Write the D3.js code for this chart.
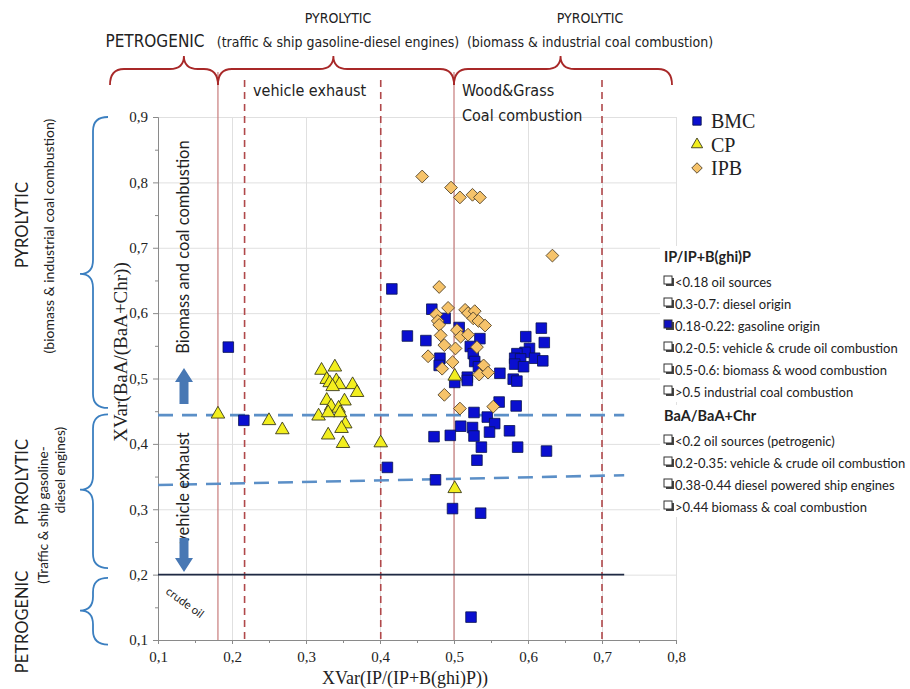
<!DOCTYPE html>
<html>
<head>
<meta charset="utf-8">
<script src="https://cdn.jsdelivr.net/npm/d3@7"></script>
<style>
  body { margin: 0; background: #fff; }
  .narrow { font-family: 'Liberation Sans Narrow', 'DejaVu Sans Condensed', sans-serif; font-stretch: condensed; fill: #222; }
  .cal { font-family: Lato, 'Open Sans', sans-serif; fill: #222; }
  .serif { font-family: 'Liberation Serif', 'Times New Roman', serif; fill: #222; }
</style>
</head>
<body>
<div id="chart"></div>
<script>
// series values: [IP/(IP+B(ghi)P), BaA/(BaA+Chr)]
const bmc = [
    [0.195, 0.548], [0.216, 0.436], [0.410, 0.364], [0.416, 0.637], [0.437, 0.565],
    [0.462, 0.558], [0.470, 0.606], [0.488, 0.592], [0.507, 0.578], [0.535, 0.561],
    [0.522, 0.549], [0.526, 0.538], [0.481, 0.531], [0.480, 0.520], [0.528, 0.526],
    [0.533, 0.518], [0.518, 0.502], [0.518, 0.497], [0.562, 0.508], [0.580, 0.499],
    [0.501, 0.494], [0.585, 0.496], [0.618, 0.577], [0.597, 0.564], [0.622, 0.555],
    [0.602, 0.546], [0.596, 0.540], [0.585, 0.538], [0.582, 0.531], [0.590, 0.530],
    [0.609, 0.531], [0.620, 0.527], [0.582, 0.522], [0.594, 0.518], [0.561, 0.464],
    [0.584, 0.458], [0.527, 0.448], [0.545, 0.441], [0.555, 0.431], [0.509, 0.427],
    [0.525, 0.425], [0.548, 0.418], [0.575, 0.420], [0.473, 0.411], [0.495, 0.413],
    [0.527, 0.412], [0.537, 0.395], [0.586, 0.395], [0.625, 0.389], [0.531, 0.375],
    [0.475, 0.345], [0.498, 0.301], [0.536, 0.294], [0.523, 0.135]
]
const ipb = [
    [0.457, 0.809], [0.496, 0.792], [0.508, 0.777], [0.525, 0.781], [0.535, 0.777],
    [0.633, 0.688], [0.480, 0.640], [0.492, 0.608], [0.476, 0.598], [0.478, 0.588],
    [0.480, 0.582], [0.482, 0.566], [0.487, 0.551], [0.465, 0.534], [0.498, 0.525],
    [0.502, 0.546], [0.504, 0.574], [0.509, 0.564], [0.515, 0.605], [0.519, 0.600],
    [0.528, 0.603], [0.526, 0.592], [0.533, 0.588], [0.542, 0.581], [0.519, 0.567],
    [0.531, 0.548], [0.540, 0.520], [0.534, 0.506], [0.546, 0.509], [0.484, 0.515],
    [0.487, 0.475], [0.508, 0.454], [0.553, 0.457]
]
const cp = [
    [0.181, 0.447], [0.250, 0.437], [0.268, 0.423], [0.321, 0.514], [0.339, 0.519],
    [0.328, 0.500], [0.332, 0.495], [0.341, 0.498], [0.345, 0.492], [0.336, 0.489],
    [0.363, 0.492], [0.369, 0.480], [0.328, 0.468], [0.352, 0.467], [0.334, 0.459],
    [0.344, 0.456], [0.346, 0.449], [0.317, 0.444], [0.330, 0.449], [0.353, 0.432],
    [0.348, 0.425], [0.330, 0.415], [0.350, 0.402], [0.401, 0.403], [0.501, 0.505],
    [0.501, 0.333]
]

const xTicks = [0.1, 0.2, 0.3, 0.4, 0.5, 0.6, 0.7, 0.8]
const yTicks = [0.1, 0.2, 0.3, 0.4, 0.5, 0.6, 0.7, 0.8, 0.9]

// source boundaries on the IP ratio (vertical red lines)
const ipCutoffs = [
    {value: 0.181, dashed: false},
    {value: 0.217, dashed: true},
    {value: 0.401, dashed: true},
    {value: 0.5, dashed: false},
    {value: 0.7, dashed: true}
]
// boundaries on the BaA ratio: [x start, y start, x end, y end]
const baaDashed = [
    [0.1, 0.444, 0.73, 0.444],
    [0.1, 0.337, 0.73, 0.352]
]
const baaSolid = [0.1, 0.2, 0.73, 0.2]

const topGroups = [
    {from: 0.1, to: 0.181, tip: 0.135, title: "PETROGENIC", sub: ""},
    {from: 0.181, to: 0.5, tip: 0.337, title: "PYROLYTIC", sub: "(traffic & ship gasoline-diesel engines)"},
    {from: 0.5, to: 0.8, tip: 0.644, title: "PYROLYTIC", sub: "(biomass & industrial coal combustion)"}
]
const leftGroups = [
    {from: 0.9, to: 0.455, tip: 0.66},
    {from: 0.445, to: 0.21, tip: 0.33},
    {from: 0.195, to: 0.093, tip: 0.145}
]

const ipNotes = [
    "<0.18 oil sources",
    "0.3-0.7:  diesel origin",
    "0.18-0.22: gasoline origin",
    "0.2-0.5: vehicle & crude oil combustion",
    "0.5-0.6: biomass & wood  combustion",
    ">0.5 industrial coal combustion"
]
const baaNotes = [
    "<0.2 oil sources (petrogenic)",
    "0.2-0.35: vehicle & crude oil combustion",
    " 0.38-0.44 diesel powered ship engines",
    ">0.44 biomass & coal combustion"
]

const width = 910, height = 689

const svg = d3.select("#chart")
    .append("svg")
    .attr("width", width)
    .attr("height", height)

const x = d3.scaleLinear().domain([0.1, 0.8]).range([158, 676])
const y = d3.scaleLinear().domain([0.1, 0.9]).range([640, 117])
const fmt = d => d3.format(".1f")(d).replace(".", ",")

// grid
svg.append("g")
    .attr("transform", `translate(0,${y(0.1)})`)
    .call(d3.axisBottom(x).tickValues(xTicks.slice(1)).tickSize(-(y(0.1) - y(0.9))).tickFormat(""))
    .call(g => g.select(".domain").remove())
    .call(g => g.selectAll("line").attr("stroke", "#e0e0e0"))
svg.append("g")
    .attr("transform", `translate(${x(0.1)},0)`)
    .call(d3.axisLeft(y).tickValues(yTicks.slice(1)).tickSize(-(x(0.8) - x(0.1))).tickFormat(""))
    .call(g => g.select(".domain").remove())
    .call(g => g.selectAll("line").attr("stroke", "#e0e0e0"))

// axes
const xAxis = svg.append("g")
    .attr("transform", `translate(0,${y(0.1)})`)
    .call(d3.axisBottom(x).tickValues(xTicks).tickFormat(fmt).tickSize(4).tickPadding(7))
xAxis.append("g").call(d3.axisBottom(x).tickValues(d3.range(0.15, 0.8, 0.1)).tickSize(3).tickFormat(""))
    .call(g => g.select(".domain").remove())
const yAxis = svg.append("g")
    .attr("transform", `translate(${x(0.1)},0)`)
    .call(d3.axisLeft(y).tickValues(yTicks).tickFormat(fmt).tickSize(5).tickPadding(5))
yAxis.append("g").call(d3.axisLeft(y).tickValues(d3.range(0.15, 0.9, 0.1)).tickSize(3).tickFormat(""))
    .call(g => g.select(".domain").remove())
;[xAxis, yAxis].forEach(a => {
    a.selectAll(".domain, .tick line").attr("stroke", "#8a8a8a")
    a.selectAll(".tick text")
        .style("font-family", "'Liberation Serif', 'Times New Roman', serif")
        .style("font-size", "15px")
        .attr("fill", "#222")
})

// region lines
svg.selectAll(".ipline")
    .data(ipCutoffs)
    .enter()
    .append("line")
    .attr("x1", d => x(d.value))
    .attr("x2", d => x(d.value))
    .attr("y1", d => d.dashed ? 80 : 72)
    .attr("y2", y(0.1))
    .attr("stroke", d => d.dashed ? "#b0484a" : "#c77b7b")
    .attr("stroke-width", d => d.dashed ? 1.6 : 1.2)
    .attr("stroke-dasharray", d => d.dashed ? "7,5" : null)

svg.selectAll(".baaline")
    .data(baaDashed)
    .enter()
    .append("line")
    .attr("x1", d => x(d[0]))
    .attr("y1", d => y(d[1]))
    .attr("x2", d => x(d[2]))
    .attr("y2", d => y(d[3]))
    .attr("stroke", "#5b8fc7")
    .attr("stroke-width", 2.6)
    .attr("stroke-dasharray", "15,9")

svg.append("line")
    .attr("x1", x(baaSolid[0]))
    .attr("y1", y(baaSolid[1]))
    .attr("x2", x(baaSolid[2]))
    .attr("y2", y(baaSolid[3]))
    .attr("stroke", "#1f2a44")
    .attr("stroke-width", 1.8)

// points
const square = d3.symbol().type(d3.symbolSquare).size(112)
const diamond = d3.symbol().type(d3.symbolSquare).size(82)
const triangle = d3.symbol().type(d3.symbolTriangle).size(80)

svg.selectAll(".bmc")
    .data(bmc)
    .enter()
    .append("path")
    .attr("d", square)
    .attr("transform", d => `translate(${x(d[0])},${y(d[1])})`)
    .attr("fill", "#0a0fd0")
    .attr("stroke", "#0a1450")
    .attr("stroke-width", 0.8)

svg.selectAll(".ipb")
    .data(ipb)
    .enter()
    .append("path")
    .attr("d", diamond)
    .attr("transform", d => `translate(${x(d[0])},${y(d[1])}) rotate(45)`)
    .attr("fill", "#f6c36a")
    .attr("stroke", "#5a4a30")
    .attr("stroke-width", 0.9)

svg.selectAll(".cp")
    .data(cp)
    .enter()
    .append("path")
    .attr("d", triangle)
    .attr("transform", d => `translate(${x(d[0])},${y(d[1]) + 1})`)
    .attr("fill", "#f2ee1e")
    .attr("stroke", "#3a3a1a")
    .attr("stroke-width", 0.9)

// curly brace helpers
const hBrace = (x1, x2, xm, yb) => {
    const r = 14, h = 16, t = 13
    return `M${x1},${yb + h} Q${x1},${yb} ${x1 + r},${yb} L${xm - r},${yb} Q${xm},${yb} ${xm},${yb - t}` +
        ` Q${xm},${yb} ${xm + r},${yb} L${x2 - r},${yb} Q${x2},${yb} ${x2},${yb + h}`
}
const vBrace = (y1, y2, ym, xb) => {
    const r = 14, h = 15, t = 13
    return `M${xb + h},${y1} Q${xb},${y1} ${xb},${y1 + r} L${xb},${ym - r} Q${xb},${ym} ${xb - t},${ym}` +
        ` Q${xb},${ym} ${xb},${ym + r} L${xb},${y2 - r} Q${xb},${y2} ${xb + h},${y2}`
}

svg.selectAll(".tbrace")
    .data(topGroups)
    .enter()
    .append("path")
    .attr("d", d => hBrace(d.from === 0.1 ? 110 : x(d.from), d.to === 0.8 ? 672 : x(d.to), x(d.tip), 69))
    .attr("fill", "none")
    .attr("stroke", "#a82828")
    .attr("stroke-width", 1.8)

svg.selectAll(".lbrace")
    .data(leftGroups)
    .enter()
    .append("path")
    .attr("d", d => vBrace(y(d.from), y(d.to), y(d.tip), 93))
    .attr("fill", "none")
    .attr("stroke", "#3b7fc0")
    .attr("stroke-width", 1.8)

// top labels
svg.append("text").attr("class", "narrow").attr("x", 155).attr("y", 47)
    .attr("text-anchor", "middle").style("font-size", "17px").text(topGroups[0].title)
topGroups.slice(1).forEach((g, i) => {
    const cx = [338, 590][i]
    svg.append("text").attr("class", "narrow").attr("x", cx).attr("y", 23)
        .attr("text-anchor", "middle").style("font-size", "14px").text(g.title)
    svg.append("text").attr("class", "narrow").attr("x", cx).attr("y", 47)
        .attr("text-anchor", "middle").style("font-size", "14px").text(g.sub)
})
svg.append("text").attr("class", "narrow").attr("x", 253).attr("y", 96)
    .style("font-size", "16px").text("vehicle exhaust")
svg.append("text").attr("class", "narrow").attr("x", 462).attr("y", 96)
    .style("font-size", "16px").text("Wood&Grass")
svg.append("text").attr("class", "narrow").attr("x", 462).attr("y", 121)
    .style("font-size", "16px").text("Coal combustion")

// left labels
const vtext = (cx, cy, size, txt, cls) => svg.append("text")
    .attr("class", cls || "cal")
    .attr("transform", `translate(${cx},${cy}) rotate(-90)`)
    .attr("text-anchor", "middle")
    .style("font-size", size)
    .text(txt)
vtext(28, 225, "16.5px", "PYROLYTIC")
vtext(54, 236, "14px", "(biomass & industrial coal combustion)")
vtext(28, 482, "16.5px", "PYROLYTIC")
vtext(48, 515, "13.5px", "(Traffic & ship gasoline-")
vtext(65, 470, "13.5px", "diesel engines)")
vtext(28, 622, "16.5px", "PETROGENIC")
vtext(127, 352, "19px", "XVar(BaA/(BaA+Chr))", "serif")
vtext(189, 247, "16.5px", "Biomass and coal combustion")
vtext(189, 488, "16.5px", "vehicle exhaust")

// block arrows
const arrow = (cx, tipY, tailY) => {
    const dir = tailY > tipY ? 1 : -1, head = 14 * dir
    return `M${cx},${tipY} L${cx + 9},${tipY + head} L${cx + 4.5},${tipY + head} L${cx + 4.5},${tailY}` +
        ` L${cx - 4.5},${tailY} L${cx - 4.5},${tipY + head} L${cx - 9},${tipY + head} Z`
}
svg.append("path").attr("d", arrow(184, 368, 404)).attr("fill", "#4878b4")
svg.append("path").attr("d", arrow(184, 572, 538)).attr("fill", "#4878b4")

svg.append("text").attr("class", "cal")
    .attr("transform", "translate(165,593) rotate(36)")
    .style("font-size", "11.5px")
    .text("crude oil")

// x axis title
svg.append("text").attr("class", "serif").attr("x", 405).attr("y", 684)
    .attr("text-anchor", "middle").style("font-size", "18px").text("XVar(IP/(IP+B(ghi)P))")

// legend
const legend = [
    {name: "BMC", fill: "#0a0fd0", stroke: "#0a1450", rot: 0},
    {name: "CP", fill: "#f2ee1e", stroke: "#3a3a1a", rot: 0},
    {name: "IPB", fill: "#f6c36a", stroke: "#5a4a30", rot: 45}
]
legend.forEach((l, i) => {
    const ly = 121 + i * 23.5
    svg.append("path")
        .attr("d", d3.symbol().type(i === 1 ? d3.symbolTriangle : d3.symbolSquare).size(i === 0 ? 70 : 55))
        .attr("transform", `translate(697,${ly}) rotate(${l.rot})`)
        .attr("fill", l.fill).attr("stroke", l.stroke).attr("stroke-width", 0.9)
    svg.append("text").attr("class", "serif").attr("x", 711).attr("y", ly + 7)
        .style("font-size", "20px").text(l.name)
})

// notes on the right
const notes = (title, lines, top, filled) => {
    svg.append("rect").attr("x", 660).attr("y", top - 16).attr("width", 250)
        .attr("height", 24 + lines.length * 22).attr("fill", "#fff")
    svg.append("text").attr("class", "cal").attr("x", 664).attr("y", top)
        .style("font-size", "14.5px").style("font-weight", "bold").text(title)
    lines.forEach((t, i) => {
        const ly = top + 25 + i * 22
        svg.append("rect").attr("x", 666).attr("y", ly - 9).attr("width", 8).attr("height", 8)
            .attr("fill", "#444")
        svg.append("rect").attr("x", 664).attr("y", ly - 11).attr("width", 8).attr("height", 8)
            .attr("fill", i === filled ? "#1010c0" : "#fff").attr("stroke", "#333").attr("stroke-width", 1)
        svg.append("text").attr("class", "cal").attr("x", 675).attr("y", ly)
            .style("font-size", "13px").text(t)
    })
}
notes("IP/IP+B(ghi)P", ipNotes, 262, 2)
notes("BaA/BaA+Chr", baaNotes, 421, -1)
</script>
</body>
</html>
